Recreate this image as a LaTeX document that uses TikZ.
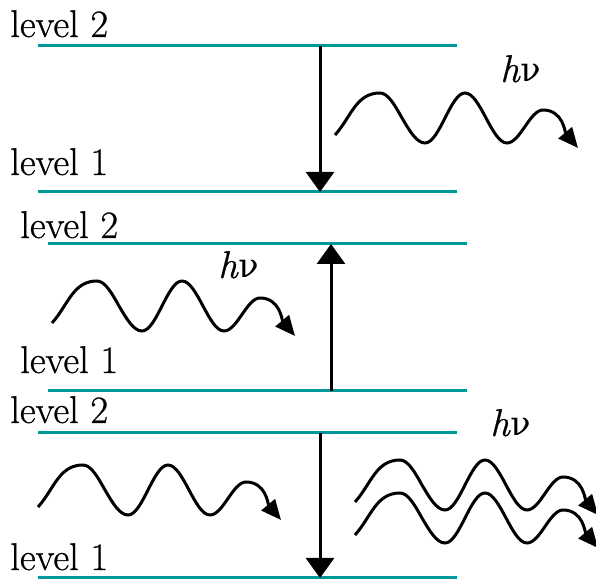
\documentclass[tikz,border=0pt]{standalone}
\usepackage{fontspec}
\setmainfont{Latin Modern Roman}[FakeBold=0.7]
\newfontfamily\nufont{DejaVu Serif}
\usetikzlibrary{arrows.meta}
\definecolor{levelcolor}{RGB}{0,153,153}
\newcommand{\hnu}{\textit{h}{\nufont\fontsize{25}{31}\selectfont ν}}

\begin{document}
\begin{tikzpicture}[x=0.75pt, y=0.75pt,
    level/.style={levelcolor, line width=2.25pt},
    lbl/.style={anchor=base west, inner sep=0pt, font=\fontsize{29}{31}\selectfont},
    trans/.style={-{Triangle[length=15pt,width=21pt]}, line width=2.25pt},
    wave/.style={-{Triangle[length=15pt,width=13pt]}, line width=2.25pt},
    photon/.pic={\draw[wave] (0,0) to[out=48,in=180] (45,42)
        cos (67,17) sin (90,-8) cos (110,17) sin (130,42) cos (151,17)
        sin (172,-8) cos (190,8.5) sin (208,25) to[out=0,in=130] (243,-13);}
  ]
  \clip (0,0) rectangle (596,581);
  % spontaneous emission
  \draw[level] (38,535) -- (457,535);
  \draw[level] (38,389) -- (457,389);
  \node[lbl] (upA) at (10,544) {level 2};
  \node[lbl] (lowA) at (10,406) {level 1};
  \coordinate (topA) at (320,535);
  \coordinate (botA) at (320,389);
  \draw[trans] (topA) -- (botA);
  \coordinate (waveA) at (335,446);
  \pic at (waveA) {photon};
  \node[lbl] (hvA) at (500,499) {\hnu};
  % absorption
  \draw[level] (48,337) -- (467,337);
  \draw[level] (48,190) -- (467,190);
  \node[lbl] (upB) at (20,343) {level 2};
  \node[lbl] (lowB) at (20,208) {level 1};
  \coordinate (topB) at (331,337);
  \coordinate (botB) at (331,190);
  \draw[trans] (botB) -- (topB);
  \coordinate (waveB) at (52,258);
  \pic at (waveB) {photon};
  \node[lbl] (hvB) at (218,303) {\hnu};
  % stimulated emission
  \draw[level] (38,148) -- (457,148);
  \draw[level] (38,3) -- (457,3);
  \node[lbl] (upC) at (10,158) {level 2};
  \node[lbl] (lowC) at (10,11) {level 1};
  \coordinate (topC) at (320,148);
  \coordinate (botC) at (320,3);
  \draw[trans] (topC) -- (botC);
  \coordinate (waveC) at (38,74);
  \pic at (waveC) {photon};
  \coordinate (waveD) at (355,79);
  \coordinate (waveE) at (355,46);
  \pic at (waveD) {photon};
  \pic at (waveE) {photon};
  \node[lbl] (hvC) at (490,145) {\hnu};
\end{tikzpicture}
\end{document}
